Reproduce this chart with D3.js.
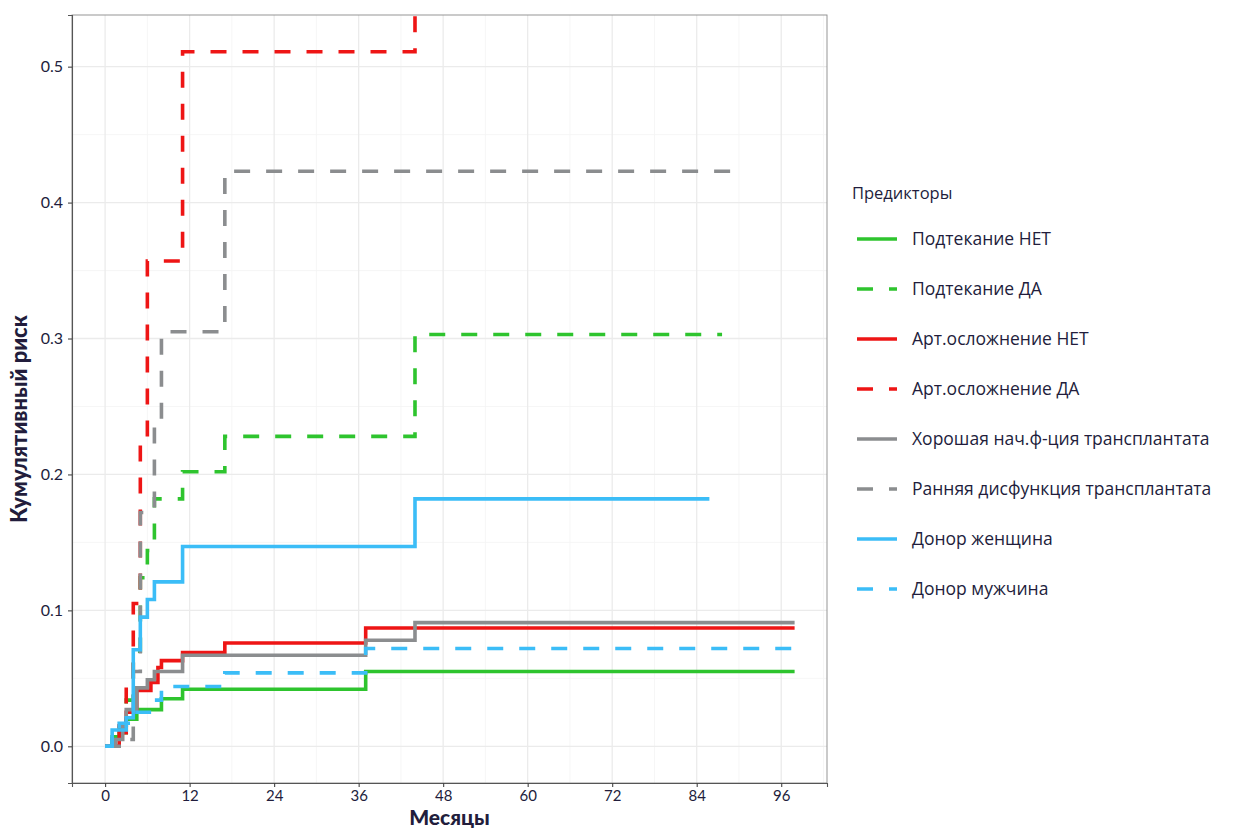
<!DOCTYPE html>
<html><head><meta charset="utf-8">
<script src="https://cdn.jsdelivr.net/npm/d3@7"></script>
<style>body{margin:0;background:#fff;} svg{display:block;}</style>
</head><body>
<svg id="chart" width="1238" height="830"></svg>
<script>
// ---- data ----
const labels = ["Подтекание НЕТ","Подтекание ДА","Арт.осложнение НЕТ","Арт.осложнение ДА",
  "Хорошая нач.ф-ция трансплантата","Ранняя дисфункция трансплантата","Донор женщина","Донор мужчина"];
const colors = ["#2ec42e","#2ec42e","#ee1515","#ee1515","#8b8d8f","#8b8d8f","#3bbdf7","#3bbdf7"];
const dashed = [false,true,false,true,false,true,false,true];

const leakNoT = [0,1,2,3,4.5,8,11,37,97.9];
const leakNoV = [0,0.007,0.014,0.02,0.027,0.035,0.042,0.055,0.055];
const leakYesT = [0,1,3,4,5,6,7,11,17,44,87.6];
const leakYesV = [0,0.01,0.034,0.07,0.124,0.144,0.182,0.202,0.228,0.303,0.303];
const artNoT = [0,2,3,4.5,6.5,7.5,8,11,17,37,97.9];
const artNoV = [0,0.01,0.025,0.041,0.047,0.058,0.063,0.069,0.076,0.087,0.087];
const artYesT = [0,2,3,4,5,6,11,44,44];
const artYesV = [0,0.015,0.045,0.105,0.226,0.357,0.511,0.511,0.6];
const goodT = [0,1.5,2.5,3,4.5,6,7,11,37,44,97.9];
const goodV = [0,0.005,0.015,0.027,0.043,0.049,0.055,0.067,0.078,0.091,0.091];
const earlyT = [0,2,4,5,7,8,17,89.2];
const earlyV = [0,0.005,0.055,0.172,0.24,0.305,0.423,0.423];
const femT = [0,1,3,4,5,6,7,11,44,85.8];
const femV = [0,0.012,0.021,0.071,0.095,0.108,0.121,0.147,0.182,0.182];
const maleT = [0,1,2,4,7,8,17,37,97.9];
const maleV = [0,0.008,0.017,0.025,0.034,0.044,0.054,0.072,0.072];

const seriesT = [leakNoT,leakYesT,artNoT,artYesT,goodT,earlyT,femT,maleT];
const seriesV = [leakNoV,leakYesV,artNoV,artYesV,goodV,earlyV,femV,maleV];

const xTicks = [0,12,24,36,48,60,72,84,96];
const xMinor = [-6,6,18,30,42,54,66,78,90,102];
const yTicks = [0,0.1,0.2,0.3,0.4,0.5];
const yMinor = [0.05,0.15,0.25,0.35,0.45];

// ---- layout ----
const L = 72, R = 827, T = 15, B = 783;
const svg = d3.select("#chart");
const x = d3.scaleLinear().domain([-4.7,102.5]).range([L,R]);
const y = d3.scaleLinear().domain([-0.027,0.538]).range([B,T]);
const txt = "#221d3c";
const font = "Lato, 'Open Sans', sans-serif";
const lfont = "'Open Sans', Lato, sans-serif";

svg.append("defs").append("clipPath").attr("id","clip")
  .append("rect").attr("x",L).attr("y",T).attr("width",R-L).attr("height",B-T);

const grid = svg.append("g");
grid.selectAll(".xm").data(xMinor.filter(d=>x(d)>L&&x(d)<R)).join("line")
  .attr("x1",d=>x(d)).attr("x2",d=>x(d)).attr("y1",T).attr("y2",B)
  .attr("stroke","#f4f4f4").attr("stroke-width",0.8);
grid.selectAll(".ym").data(yMinor).join("line")
  .attr("y1",d=>y(d)).attr("y2",d=>y(d)).attr("x1",L).attr("x2",R)
  .attr("stroke","#f4f4f4").attr("stroke-width",0.8);
grid.selectAll(".xM").data(xTicks).join("line")
  .attr("x1",d=>x(d)).attr("x2",d=>x(d)).attr("y1",T).attr("y2",B)
  .attr("stroke","#ebebeb").attr("stroke-width",1.3);
grid.selectAll(".yM").data(yTicks).join("line")
  .attr("y1",d=>y(d)).attr("y2",d=>y(d)).attr("x1",L).attr("x2",R)
  .attr("stroke","#ebebeb").attr("stroke-width",1.3);

// panel border
svg.append("rect").attr("x",L).attr("y",T).attr("width",R-L).attr("height",B-T)
  .attr("fill","none").attr("stroke","#8a8a8a").attr("stroke-width",0.9);

// series
const line = d3.line().x(d=>x(d[0])).y(d=>y(d[1])).curve(d3.curveStepAfter);
const lines = svg.append("g").attr("clip-path","url(#clip)");
seriesT.forEach((ts,i)=>{
  const pts = ts.map((t,j)=>[t,seriesV[i][j]]);
  lines.append("path").attr("d",line(pts)).attr("fill","none")
    .attr("stroke",colors[i]).attr("stroke-width",3.6)
    .attr("stroke-dasharray",dashed[i]?"16,16":null)
    .attr("stroke-linejoin","miter").attr("stroke-linecap","butt");
});

// axes
const xa = svg.append("g").attr("transform",`translate(0,${B})`)
  .call(d3.axisBottom(x).tickValues(xTicks).tickSize(4).tickPadding(3).tickFormat(d3.format("d")));
const ya = svg.append("g").attr("transform",`translate(${L},0)`)
  .call(d3.axisLeft(y).tickValues(yTicks).tickSize(4).tickPadding(5).tickFormat(d3.format(".1f")));
[xa,ya].forEach(a=>{
  a.select(".domain").attr("stroke","#555").attr("stroke-width",1.1);
  a.selectAll(".tick line").attr("stroke","#444").attr("stroke-width",1.1);
  a.selectAll(".tick text").attr("fill",txt).attr("font-size",16).attr("font-family",font);
});
xa.selectAll(".tick text").attr("font-size",15);

// titles
svg.append("text").attr("x",(L+R)/2).attr("y",825).attr("text-anchor","middle")
  .attr("font-family",font).attr("font-weight","900").attr("font-size",21).attr("fill",txt).text("Месяцы");
svg.append("text").attr("transform",`translate(27,${(T+B)/2+20}) rotate(-90)`).attr("text-anchor","middle")
  .attr("font-family",font).attr("font-weight","900").attr("font-size",22).attr("fill",txt).text("Кумулятивный риск");

// legend
const lg = svg.append("g");
lg.append("text").attr("x",852).attr("y",199).attr("font-family",lfont).attr("font-size",16.5)
  .attr("fill",txt).text("Предикторы");
labels.forEach((lab,i)=>{
  const yy = 239 + i*50;
  lg.append("line").attr("x1",857).attr("x2",897).attr("y1",yy).attr("y2",yy)
    .attr("stroke",colors[i]).attr("stroke-width",3.6)
    .attr("stroke-dasharray",dashed[i]?"16,16":null);
  lg.append("text").attr("x",912).attr("y",yy+6).attr("font-family",lfont).attr("font-size",17.5)
    .attr("fill",txt).text(lab);
});
</script>
</body></html>
